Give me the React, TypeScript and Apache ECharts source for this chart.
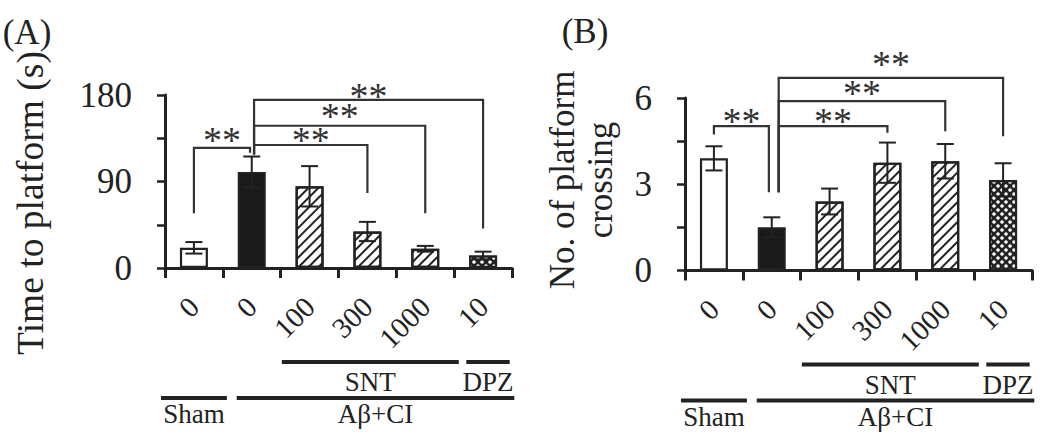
import React, { useEffect, useRef } from 'react';
import * as echarts from 'echarts';

// ---------- data ----------
const doseLabels = ['0', '0', '100', '300', '1000', '10'];
const timeMeans = [21, 100, 85, 38, 20, 13];
const timeErrors = [6, 16, 21, 10, 3, 4];
const crossingMeans = [3.9, 1.5, 2.4, 3.75, 3.8, 3.15];
const crossingErrors = [0.42, 0.35, 0.45, 0.7, 0.6, 0.58];
const timeTickLabels = [0, 90, 180];
const crossingTickLabels = [0, 3, 6];
const barFills = ['open', 'solid', 'hatch', 'hatch', 'hatch', 'dots'];
// significance brackets: [fromIdx, toIdx, level, leftDrop, rightDrop, starLevel]
const timeBrackets = [
  [0, 1, 125, 57, 120, 138],
  [1, 3, 128, 118, 78, 138],
  [1, 4, 148, 118, 57, 163],
  [1, 5, 175, 118, 41, 184],
];
const crossingBrackets = [
  [0, 1, 5.02, 4.73, 2.72, 5.37],
  [1, 3, 5.02, 2.72, 4.79, 5.37],
  [1, 4, 5.89, 2.72, 4.84, 6.36],
  [1, 5, 6.7, 2.72, 4.67, 7.34],
];
const starText = '**';
const groupNames = ['SNT', 'DPZ', 'Sham', 'Aβ+CI'];

// ---------- layout / style ----------
const FONT = '"Liberation Serif", "Times New Roman", serif';
const INK = '#222';
// group spans in category units from axis left edge, and row
const groupSpans = [
  [2.02, 5.08, 0],
  [5.21, 5.96, 0],
  [-0.07, 1.07, 1],
  [1.24, 6.04, 1],
];
const groupLineOffsets = [94, 130];
const groupTextOffsets = [114, 146];

const hatchDecal = {
  symbol: 'rect',
  symbolSize: 1,
  color: '#222',
  backgroundColor: '#fff',
  dashArrayX: [1, 0],
  dashArrayY: [2, 5],
  rotation: -Math.PI / 4,
};
const dotDecal = {
  symbol: 'circle',
  symbolSize: 0.9,
  color: '#fff',
  backgroundColor: '#222',
  dashArrayX: [[3.5, 3.5], [0, 3.5, 3.5, 0]],
  dashArrayY: [3.5, 0],
};

function fillStyle(kind: string) {
  const base: any = { borderColor: INK, borderWidth: 2.2 };
  if (kind === 'open') return { ...base, color: '#fff' };
  if (kind === 'solid') return { ...base, color: '#1a1a1a' };
  if (kind === 'hatch') return { ...base, color: '#fff', decal: hatchDecal };
  return { ...base, color: '#222', decal: dotDecal };
}

function barSeries(means: number[], idx: number) {
  return {
    type: 'bar',
    xAxisIndex: idx,
    yAxisIndex: idx,
    barWidth: 28,
    silent: true,
    data: means.map((v, i) => ({ value: v, itemStyle: fillStyle(barFills[i]) })),
  };
}

function errorSeries(means: number[], errs: number[], idx: number) {
  return {
    type: 'custom',
    xAxisIndex: idx,
    yAxisIndex: idx,
    z: 5,
    silent: true,
    data: means.map((m, i) => [i, m]),
    renderItem: (params: any, api: any) => {
      const i = params.dataIndex;
      const m = means[i];
      const e = errs[i];
      const top = api.coord([i, m + e]);
      const bot = api.coord([i, m - e]);
      const hw = 8.5;
      const st = { stroke: INK, lineWidth: 2 };
      return {
        type: 'group',
        children: [
          { type: 'line', shape: { x1: top[0], y1: top[1], x2: bot[0], y2: bot[1] }, style: st },
          { type: 'line', shape: { x1: top[0] - hw, y1: top[1], x2: top[0] + hw, y2: top[1] }, style: st },
          { type: 'line', shape: { x1: bot[0] - hw, y1: bot[1], x2: bot[0] + hw, y2: bot[1] }, style: st },
        ],
      };
    },
  };
}

function bracketSeries(brackets: number[][], idx: number, firstRight: number, othersLeft: number) {
  return {
    type: 'custom',
    xAxisIndex: idx,
    yAxisIndex: idx,
    z: 6,
    silent: true,
    data: brackets.map((b) => [b[0], b[2]]),
    renderItem: (params: any, api: any) => {
      const b = brackets[params.dataIndex];
      const w = api.coord([1, 0])[0] - api.coord([0, 0])[0];
      const first = params.dataIndex === 0;
      const x1 = api.coord([b[0], 0])[0] + (first ? 0 : othersLeft * w);
      const x2 = api.coord([b[1], 0])[0] + (first ? firstRight * w : 0);
      const yl = api.coord([0, b[2]])[1];
      const y1 = api.coord([0, b[3]])[1];
      const y2 = api.coord([0, b[4]])[1];
      const ys = api.coord([0, b[5]])[1];
      return {
        type: 'group',
        children: [
          {
            type: 'polyline',
            shape: { points: [[x1, y1], [x1, yl], [x2, yl], [x2, y2]] },
            style: { stroke: '#333', lineWidth: 2.2, fill: 'none' },
          },
          {
            type: 'text',
            style: {
              text: starText,
              x: (x1 + x2) / 2,
              y: ys + 5,
              font: `38px ${FONT}`,
              lineHeight: 16,
              fill: '#333',
              align: 'center',
              verticalAlign: 'middle',
              textAlign: 'center',
              textVerticalAlign: 'middle',
            },
          },
        ],
      };
    },
  };
}

function groupSeries(idx: number) {
  return {
    type: 'custom',
    xAxisIndex: idx,
    yAxisIndex: idx,
    z: 6,
    silent: true,
    data: groupSpans.map(() => [0, 0]),
    renderItem: (params: any, api: any) => {
      const s = groupSpans[params.dataIndex];
      const c0 = api.coord([0, 0]);
      const w = api.coord([1, 0])[0] - c0[0];
      const left = c0[0] - w / 2;
      const xa = left + s[0] * w;
      const xb = left + s[1] * w;
      const row = s[2];
      const ly = c0[1] + groupLineOffsets[row];
      const ty = c0[1] + groupTextOffsets[row];
      return {
        type: 'group',
        children: [
          { type: 'line', shape: { x1: xa, y1: ly, x2: xb, y2: ly }, style: { stroke: INK, lineWidth: 4 } },
          {
            type: 'text',
            style: {
              text: groupNames[params.dataIndex],
              x: (xa + xb) / 2,
              y: ty,
              font: `27px ${FONT}`,
              fill: INK,
              align: 'center',
              verticalAlign: 'middle',
              textAlign: 'center',
              textVerticalAlign: 'middle',
            },
          },
        ],
      };
    },
  };
}

function xAxisDef(idx: number) {
  return {
    type: 'category',
    gridIndex: idx,
    data: doseLabels,
    axisLine: { show: true, lineStyle: { color: INK, width: 3 } },
    axisTick: { show: true, length: 10, lineStyle: { color: INK, width: 3 } },
    axisLabel: { rotate: 45, interval: 0, margin: 34, fontSize: 29, color: INK, fontFamily: FONT },
  };
}

function yAxisDef(idx: number, max: number, interval: number, labels: number[]) {
  return {
    type: 'value',
    gridIndex: idx,
    min: 0,
    max,
    interval,
    axisLine: { show: true, lineStyle: { color: INK, width: 3 } },
    axisTick: { show: true, length: 8, lineStyle: { color: INK, width: 2.5 } },
    splitLine: { show: false },
    axisLabel: {
      margin: 33,
      fontSize: 35,
      color: INK,
      fontFamily: FONT,
      formatter: (v: number) => (labels.indexOf(v) >= 0 ? String(v) : ''),
    },
  };
}

function textEl(text: string, x: number, y: number, size: number, rotation = 0, lineHeight?: number) {
  return {
    type: 'text',
    x,
    y,
    rotation,
    style: {
      text,
      font: `${size}px ${FONT}`,
      fill: INK,
      align: 'center',
      verticalAlign: 'middle',
      textAlign: 'center',
      textVerticalAlign: 'middle',
      lineHeight: lineHeight || size,
    },
  };
}

export default function App() {
  const ref = useRef<HTMLDivElement>(null);
  useEffect(() => {
    if (!ref.current) return;
    const chart = echarts.init(ref.current, null, { renderer: 'svg' });
    chart.setOption({
      animation: false,
      backgroundColor: '#fff',
      textStyle: { fontFamily: FONT },
      grid: [
        { left: 165, top: 95, width: 347, height: 173 },
        { left: 685, top: 98, width: 347, height: 172.5 },
      ],
      xAxis: [xAxisDef(0), xAxisDef(1)],
      yAxis: [yAxisDef(0, 180, 45, timeTickLabels), yAxisDef(1, 6, 1.5, crossingTickLabels)],
      graphic: [
        textEl('(A)', 27, 32, 35),
        textEl('(B)', 585, 31, 35),
        textEl('Time to platform (s)', 30, 203, 37.5, Math.PI / 2),
        textEl('No. of platform\ncrossing', 581, 180, 35, Math.PI / 2, 38),
      ],
      series: [
        barSeries(timeMeans, 0),
        errorSeries(timeMeans, timeErrors, 0),
        bracketSeries(timeBrackets, 0, -0.03, 0.04),
        groupSeries(0),
        barSeries(crossingMeans, 1),
        errorSeries(crossingMeans, crossingErrors, 1),
        bracketSeries(crossingBrackets, 1, -0.05, 0.12),
        groupSeries(1),
      ],
    });
    return () => chart.dispose();
  }, []);
  return <div ref={ref} style={{ position: 'absolute', left: 0, top: 0, width: 1044, height: 436 }} />;
}
